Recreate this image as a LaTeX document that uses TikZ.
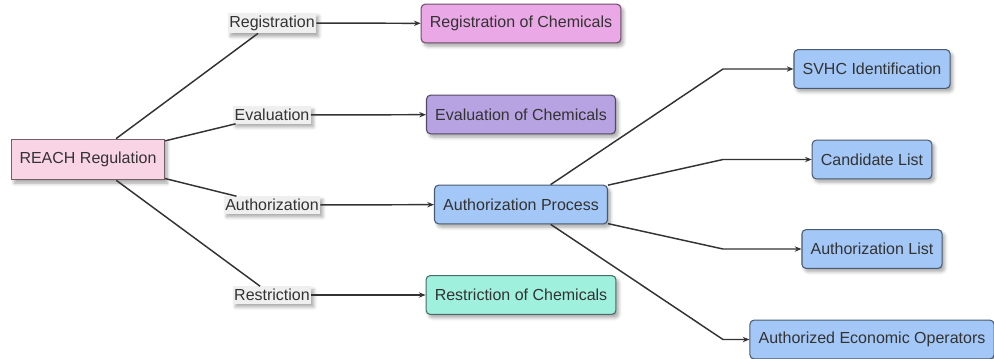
\documentclass[tikz,border=0pt]{standalone}
\usepackage{fontspec}
\setmainfont{Liberation Sans}
\usetikzlibrary{arrows.meta,shadows.blur}
\definecolor{txt}{HTML}{333333}
\definecolor{edge}{HTML}{333333}
\definecolor{cReach}{HTML}{F9D4E4}
\definecolor{cReg}{HTML}{EBA8E6}
\definecolor{cEval}{HTML}{B7A3E2}
\definecolor{cAuth}{HTML}{A3C7F6}
\definecolor{cRest}{HTML}{A0F0DE}
\definecolor{cLab}{HTML}{EFEFEF}
\tikzset{
  shad/.style={blur shadow={shadow blur steps=6,shadow xshift=2pt,shadow yshift=-2.5pt,shadow opacity=35,shadow blur radius=2.5pt}},
  box/.style={shad,draw=#1!45!black,line width=0.8pt,rounded corners=3pt,fill=#1,text=txt,
    font=\fontsize{12}{14}\selectfont,inner xsep=6.5pt,minimum height=29pt},
  rootbox/.style={shad,draw=cReach!45!black,line width=0.8pt,fill=cReach,text=txt,
    font=\fontsize{12}{14}\selectfont,inner xsep=6pt,minimum height=30.5pt},
  lab/.style={shad,fill=cLab,text=txt,font=\fontsize{12}{14}\selectfont,inner xsep=1pt,inner ysep=2pt},
  con/.style={draw=edge,line width=1.1pt},
  arr/.style={con,-{Stealth[length=5pt,width=4pt]}},
}
\begin{document}
\begin{tikzpicture}[x=0.75pt,y=-0.75pt]
\useasboundingbox (0,0) rectangle (994,358);
\node[rootbox] (reach) at (88,159.5) {REACH Regulation};
\node[lab] (lreg) at (272,23) {Registration};
\node[lab] (leval) at (272,115) {Evaluation};
\node[lab] (lauth) at (272,205) {Authorization};
\node[lab] (lrest) at (272,295) {Restriction};
\node[box=cReg] (reg) at (521,23.5) {Registration of Chemicals};
\node[box=cEval] (eval) at (521,114.5) {Evaluation of Chemicals};
\node[box=cAuth] (auth) at (521,204.5) {Authorization Process};
\node[box=cRest] (rest) at (521,295) {Restriction of Chemicals};
\node[box=cAuth] (svhc) at (872,69) {SVHC Identification};
\node[box=cAuth] (cand) at (872,159.5) {Candidate List};
\node[box=cAuth] (alist) at (872,249) {Authorization List};
\node[box=cAuth] (aeo) at (872,339.5) {Authorized Economic Operators};
\coordinate (k1) at (723,69);
\coordinate (k2) at (723,159.5);
\coordinate (k3) at (723,249);
\coordinate (k4) at (723,339.5);
\draw[con] (reach) -- (lreg);
\draw[con] (reach) -- (leval);
\draw[con] (reach) -- (lauth);
\draw[con] (reach) -- (lrest);
\draw[arr] (lreg) -- (reg);
\draw[arr] (leval) -- (eval);
\draw[arr] (lauth) -- (auth);
\draw[arr] (lrest) -- (rest);
\draw[arr] (auth) -- (k1) -- (svhc);
\draw[arr] (auth) -- (k2) -- (cand);
\draw[arr] (auth) -- (k3) -- (alist);
\draw[arr] (auth) -- (k4) -- (aeo);
\end{tikzpicture}
\end{document}
